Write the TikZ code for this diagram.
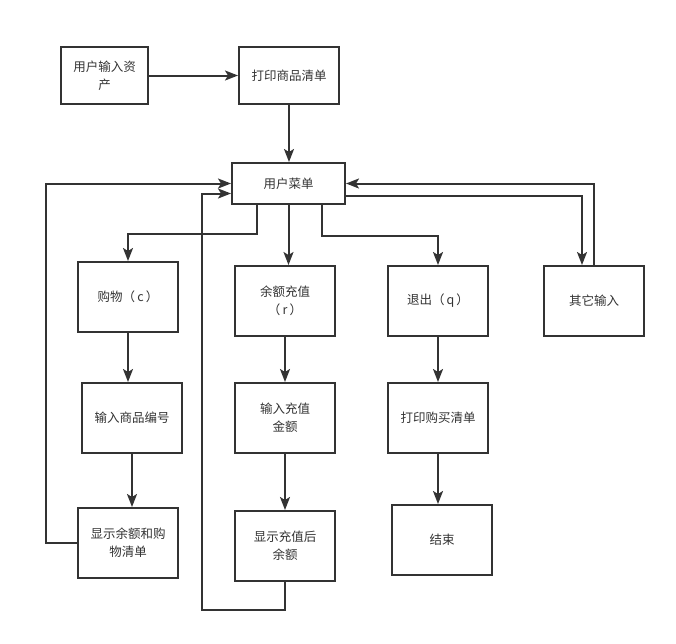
\documentclass[tikz,border=0pt]{standalone}
\usepackage{fontspec}
\setmainfont{Noto Sans CJK SC}
\usetikzlibrary{arrows.meta}
\definecolor{ink}{HTML}{333333}
\tikzset{
  box/.style={draw=ink, line width=2pt, rectangle, minimum width=100pt, minimum height=70pt,
    inner sep=0pt, align=center, text=ink, font=\fontsize{12.5}{18}\selectfont},
  arr/.style={draw=ink, line width=2pt, -{Stealth[length=13pt,width=10pt,inset=3pt]}},
}
\begin{document}
\begin{tikzpicture}[x=1pt,y=-1pt]
\useasboundingbox (0,0) rectangle (676,643);
% top row and menu
\node[box, minimum width=87pt, minimum height=57pt] (A) at (104.5,75.5) {用户输入资\\产};
\node[box, minimum height=57pt] (B) at (289,75.5) {打印商品清单};
\node[box, minimum width=113pt, minimum height=41pt] (M) at (288.5,183.5) {用户菜单};
% shopping branch
\node[box] (C) at (128,297) {购物（\,c\,）};
\node[box] (D) at (132,418) {输入商品编号};
\node[box] (E) at (128,543) {显示余额和购\\物清单};
% top-up branch
\node[box] (F) at (285,301) {余额充值\\（\,r\,）};
\node[box] (G) at (285,418) {输入充值\\金额};
\node[box] (H) at (285,546) {显示充值后\\余额};
% quit branch
\node[box] (I) at (438,301) {退出（\,q\,）};
\node[box] (J) at (438,418) {打印购买清单};
\node[box] (K) at (442,540) {结束};
% other input
\node[box] (L) at (594,301) {其它输入};

\coordinate (loopH) at (202,610);

% flow
\draw[arr] (A) -- (B);
\draw[arr] (B.south) -- (B.south |- M.north);
\draw[arr] ([xshift=-31.5pt]M.south) -- ++(0,29) -| (C.north);
\draw[arr] (M.south) -- (M.south |- F.north);
\draw[arr] ([xshift=33.5pt]M.south) -- ++(0,31) -| (I.north);
\draw[arr] ([yshift=-12pt]M.east) -| ([xshift=-12pt]L.north);
\draw[arr] (L.north) |- (M.east);

\draw[arr] (C.south) -- (C.south |- D.north);
\draw[arr] (D.south) -- (D.south |- E.north);
\draw[arr] (E.west) -- ++(-31,0) |- (M.west);

\draw[arr] (F) -- (G);
\draw[arr] (G) -- (H);
\draw[arr] (H.south) |- (loopH) |- ([yshift=-10pt]M.west);

\draw[arr] (I) -- (J);
\draw[arr] (J.south) -- (J.south |- K.north);
\end{tikzpicture}
\end{document}
